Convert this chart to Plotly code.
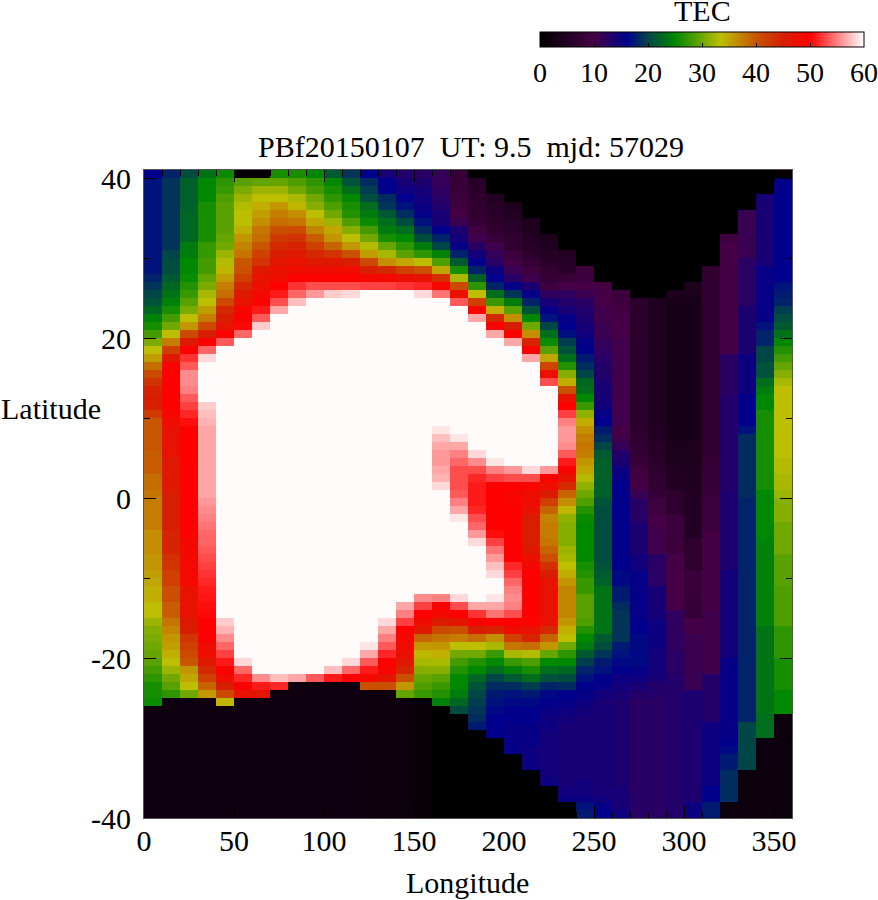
import plotly.graph_objects as go

W = 59.85  # saturated TEC region

lon_000 = [16]+[17]*12+[18,19,20,21,22.5,24.5,26,28,30.5,33.5,35.5,38.5,41,43,44.5,45,45,42.5,40,40,40,40,39.5,39.5,39.5,38.5,38.5,38,37.5,37.5,37.5,37.5,36.5,36.5,36.5,36,36,35.5,35,34.5,34.5,33.5,33.5,32,31,30.5,30,29.5,29,28,27,26,26,25.5]+[2]*14
lon_010 = [18]+[19]*9+[20,20.5,20.5,21.5,22.5,23.5,24.5,26,28,30,33.5,37.5,42,46,49.5]+[50]*5+[49,48]+[47]*4+[46]*4+[45]*5+[44.5]*3+[43.5,43,42,42,40.5,40.5,39.5,39.5,38,37,36,35.5,34.5,33.5,32,30,29,27]+[2]*15
lon_020 = [20.5]+[22]*4+[22.5]*4+[24,24,25,25,25.5,26.5,27.5,29,30.5,33.5,36,41,46,50,52,53.5,55.5,55.5,55,53.5,52.5,51.5,50.5]+[50]*14+[48.5]*6+[47]*4+[46,45.5,43,42,41,40,36,35,33.5,30]+[2]*15
lon_030 = [23.5]+[25]*3+[26]*5+[27.5,27.5,28,28,29.5,30.5,32.5,33.5,35.5,37.5,41,45,50,54,58.5]+[W]*5+[58,57.5,57]+[56.5]*9+[56,55.5,55,54.5,54,54,53.5,53,52.5,52,51.5,51,50.8,50.5,50.3,50,50,50,48,48,46,44,42,39,36]+[2]*15
lon_040 = [25.5,27,27.5,28.5]+[29]*4+[29.5,30,32,33,34,35.5,37.5,38.5,41,44,45,46.5,49.5,53.5]+[W]*34+[58,57,55.5,54,52.5,51,50,48,45,41,34]+[2]*14
lon_050 = [1,29,30.5,32,33,33.5,33.5,34.5,36,37,38,40,40.5,42,44,46,47,49,50,50.2,54]+[W]*40+[58.5,54,51.5,50,47]+[2]*15
lon_060 = [1,29.5,32,33.5,34.5,35.5,36.5,38,38.5,40,42,43,46,47,47.5,48.5,49.5,51,53.5,58]+[W]*43+[55.5,51,46.5]+[2]*15
lon_070 = [26,29.5,32,33.5,36,37.5,38.5,40.5,42.5,44,45,46.5,47.5,48,50,51,53,56.5]+[W]*45+[57.5,51.5]+[2]*16
lon_080 = [26,28.5,30,32.5,34,36.5,38,41,43,44.5,46,47,48,49.5,52,54,57.5]+[W]*46+[56.5]+[2]*17
lon_090 = [25,27,28,30,31,33.5,35,37,39.5,42,44,46,48,49.5,53,56]+[W]*47+[53.5]+[2]*17
lon_100 = [21.5,25,26,27,28.5,30,32,35,36,39,43,46,48,49.5,53,58]+[W]*46+[57.5,51]+[2]*17
lon_110 = [19,21,23,25,26,26.5,28.5,31,33.5,36,40.5,45,48,49.5,53,58.5]+[W]*45+[58.5,54,49.5]+[2]*17
lon_120 = [16,18.5,19.5,20.5,23,24,25.5,28,30,33,35.5,41,45,48.5,52.5]+[W]*44+[59,56.5,53.5,51,48.5,40.5]+[1.5]*16
lon_130 = [14,16,16,18.5,19,21.5,23,24,26,29.5,32.5,36.5,44,48.5,52.5]+[W]*41+[58.5,56.5,55,53.5,51.5,50,49,46.5,40.5]+[1.5]*16
lon_140 = [13,14,15,16,17,18.5,20.5,23,25,27,29,35,42,47.5,52]+[W]*39+[56.5,55,52.5,50,49,48,47.5,46,44.5,40.5,36,29.5]+[1.5]*15
lon_150 = [12.5,13.5,14,14.5,15,15.5,17,18.5,20.5,24,27,33.5,40.5,47,51.5,58.5]+[W]*37+[55.5,52.5,50,48,46,39,36,34,32.5,31,29.5,28.5,27.5]+[1]*15
lon_160 = [11.5,11.5,12,12.5,13,14,14,16,18,20,24.5,28.5,35,43.5,49,54.5]+[W]*16+[59,57.5,56.5,56,56,56.5,57,58.5]+[W]*13+[55,50,48.5,45.5,41,38,36,34.5,32.5,31,29,27.5,26.5,24.5]+[0]*14
lon_170 = [7.5,8,8,8.5,8.5,9.5,11,13.5,14.5,15.5,18,21.5,26,32.5,41,47.5,53.5]+[W]*16+[59,56.5,55,54,53,53,53,53.5,55,56.5,59]+[W]*9+[58.5,53,50,46.5,40.5,37.5,33.5,30,28,26.5,25,25,24,22.5,20.5]+[0]*13
lon_180 = [0,5.5,6,6.5,7,7,7.5,9,10.5,12.5,14.5,16,18,22,27,33.5,42,49.5,56.5]+[W]*16+[58.5,55.5,53,51.5,51,51,51,51.5,53,54,56,58.5]+[W]*7+[56.5,52,49,45,38.5,33.5,30,26.5,25,22.5,21,20,19.5,19,18.5,17.5]+[0]*11
lon_190 = [0,0,0,5,5.5,6,6.5,7,8,10.5,11.5,12.5,15,16,18,23,27.5,34.5,44,50,56.5]+[W]*15+[59,55,52.5,50]+[50]*5+[50.5,52.5,54.5,56,57.5,58.5]+[W]*2+[59,56.5,54.5,50,44.5,36.5,32.5,27.5,25,23,20,18.5,17.5,17,16.5,16,16,16]+[0]*10
lon_200 = [0]*4+[4,5,5.5,6,7,7,8.5,9.5,11,12.5,15.5,19,24,29,36.5,45,50,56.5]+[W]*15+[56,53,50,49,49.5,50,50,50,50,50,50,50,51.5,52.5,54,55,55.5,55,53,50,48,42,38,32.5,27.5,24.5,21.5,18.5,17,16.5,16,16,15.5,15.5,15.5,15.5]+[0]*8
lon_210 = [0]*6+[4,4.5,5,5.5,6.5,7.5,9,10.5,13.5,15.5,18,21,25,30,36.5,44.5,50,56.5]+[W]*13+[58.5,53,49,48,48,47,45.5,45,45,45,46,47.5,48.5]+[50]*6+[49.5,47,44.5,38.5,33,28.5,26,23,19.5,17.5,16.5,16,16,15.5,15.5,15.5,15,15,15]+[0]*6
lon_220 = [0]*8+[4,4.5,5,6,7,7.5,8.5,12,14,15.5,17,20,23,25.5,29,35,41.5,48,53]+[W]*10+[56,49.5,48,45.5,42,39,37,37.5,37.5,38,39,40.5,43.5,45]+[47]*6+[44,39,36,29.5,25,23,21,18,16.5,16,15.5,15,15]+[14.5]*6+[15]+[0]*4
lon_230 = [0]*10+[5,5.5,6,8,10,12,13,14,15.5,16,16.8,19.5,21,23,26.5,31,34.5,40.5,47,50,52.5,55,56,56,55.5,53.5,51,49,47,44,39,36.5,34,31.5,31,31,31,32,32.5,33.5,34.5,36,37,37,37,37,36,34.5,33.5,30,27,25,22.5,20.5,18.5,16,15.5,15,14.5,14,14,14,14,14,14,14,14,14.5,15]+[0]*2
lon_240 = [0]*12+[8.5,9,10,11,12.5,13,13.5,14,14.5,15.5,16,17.5,18.5,20,22.5,23,25,27.5,31.5,34.5,36.5,37.5,38,37.5,36,35,33,31.5,30,28.5,26.5,25.5,25,25,25,25,25,26,26.5,27.5,27.5,29,29,29,28.5,26.5,25,24,21.5,19.5,18,17,16,15.5,15,14.5]+[14]*8+[14.5,14.5,15,17,17.5]
lon_250 = [0]*14+[9.5,10,10,10.5,10.5,11,11,11.5,12,12.5,13,13,13.5,14,14,14.5,15.5,16,17.5,18.5,20,21.5]+[22]*5+[21]+[20.5]*7+[21,21.5,22]+[23.5]*6+[21.5,20.5,19,17.5,17,16,15.5,14.5]+[14]*12+[14.5,15.5,16]
lon_260 = [0]*15+[8.5,9,9.5]+[10]*3+[10.5]*11+[10,10.5,11.5,13,13.5,15,15.5,16,16]+[16]*9+[16.5,16.5,17.5,17.5,18.5,19]+[19]*3+[17.5,17,16.5,16,15,14.5,14]+[13.5]*11+[14,14,14,15]
lon_270 = [0]*16+[6]*16+[6.5,7,7,7.5,8,9,9.5,10,11]+[12.5]*3+[13.5]*4+[14.5]*2+[15.5]*6+[16]*2+[16.5]*4+[15.5,15,14,13]+[12.5]*15
lon_280 = [0]*16+[4]+[4.5]*15+[5,5,5.5,5.5,6,6.5,7,7,7.5]+[9]*2+[10]*2+[10.5]*3+[12.5]*4+[14]*4+[15]*4+[14.5]*3+[14,13,13]+[12.5]*15
lon_290 = [0]*15+[4]+[3.5]*18+[4]*3+[5]*3+[6.5]*3+[8.5]*5+[10]*7+[12]*5+[12.5]*3+[13]*18
lon_300 = [0]*14+[4]*2+[3.5]*18+[4]*3+[4.5]*3+[5]*6+[6.5]*4+[8]*3+[7.5]*3+[10]*2+[11]*7+[13.5]*14+[15]*2
lon_310 = [0]*12+[7]*24+[7.5]*4+[8]+[8.5]*4+[9.5]*5+[10]*5+[10.5]*8+[13]*6+[15]*8+[16]*2+[17.5]*2
lon_320 = [0]*8+[9]+[10]*14+[12.5]*5+[13]*12+[13.5]*10+[14.5]*11+[15.5]*10+[16,16.5,17.5,17.5]+[18.5]*4+[1.5]*2
lon_330 = [0]*5+[11]*6+[12.5]*6+[13.5]*6+[15]*5+[16]*4+[17]+[18.5]*8+[18]*28+[20]*6+[1.5]*6
lon_340 = [0]*3+[14]*9+[15.5]*7+[17]+[18]*2+[20]*2+[21]*2+[23,24]+[25]*2+[26]*10+[25]*6+[24.5]*11+[23.5]*11+[23]*3+[1.5]*10
lon_350 = [1]+[16]*13+[17,17.5,18,19.5,20.5,21.5,23.5,25,26.5,28,29.5,31,32.5]+[33.5]*9+[33]*2+[32.5]*2+[32]+[31]*3+[30]*4+[29]*4+[28.5]*5+[27]*4+[26]*4+[25]*3+[1.5]*13

columns = [lon_000, lon_010, lon_020, lon_030, lon_040, lon_050, lon_060, lon_070, lon_080,
           lon_090, lon_100, lon_110, lon_120, lon_130, lon_140, lon_150, lon_160, lon_170,
           lon_180, lon_190, lon_200, lon_210, lon_220, lon_230, lon_240, lon_250, lon_260,
           lon_270, lon_280, lon_290, lon_300, lon_310, lon_320, lon_330, lon_340, lon_350]
for i, c in enumerate(columns):
    assert len(c) == 81, (i, len(c))

x_edges = list(range(0, 361, 10))
y_edges = list(range(-40, 42))
z = [[c[80 - r] for c in columns] for r in range(81)]

tec_stops = [0, 10, 16, 20, 25, 33.5, 40, 45, 50, 60]
tec_colors = ["#000000", "#460046", "#00008c", "#004646", "#008800",
              "#bebe00", "#c85500", "#d71e00", "#ff0000", "#ffffff"]
colorscale = [[s / 60, c] for s, c in zip(tec_stops, tec_colors)]

x_ticks = [0, 50, 100, 150, 200, 250, 300, 350]
y_ticks = [-40, -20, 0, 20, 40]
FONT = "Liberation Serif"
FS = 30
TXT = dict(family=FONT, size=FS, color="black")

fig = go.Figure(go.Heatmap(
    x=x_edges, y=y_edges, z=z, zmin=0, zmax=60, colorscale=colorscale,
    colorbar=dict(
        orientation="h", lenmode="pixels", len=324, thicknessmode="pixels", thickness=15,
        x=(540 - 144) / 648, xanchor="left", y=(818 - 32) / 648, yanchor="top",
        xpad=0, ypad=0, outlinecolor="black", outlinewidth=1, borderwidth=0,
        tick0=0, dtick=10, ticks="inside", ticklen=4, tickcolor="black",
        ticklabelposition="outside", ticklabeloverflow="allow",
        tickfont=dict(family=FONT, size=28, color="black"),
    ),
))

axis_common = dict(
    showgrid=False, zeroline=False, showline=True, linecolor="#555555", linewidth=1,
    mirror="allticks", ticks="inside", ticklen=12, tickcolor="black", tickwidth=1,
    tickfont=TXT,
)
fig.update_xaxes(range=[0, 360], tickmode="array", tickvals=x_ticks, ticktext=[str(v) for v in x_ticks],
                 ticklabelstandoff=-4,
                 minor=dict(dtick=10, ticks="inside", ticklen=6, tickcolor="black"), **axis_common)
fig.update_yaxes(range=[-40, 41], tickmode="array", tickvals=y_ticks, ticktext=[str(v) for v in y_ticks],
                 ticklabelstandoff=6,
                 minor=dict(dtick=10, ticks="inside", ticklen=6, tickcolor="black"), **axis_common)


def label(text, px, py, anchor="center"):
    return dict(text=text, x=(px - 144) / 648, xref="paper", xanchor=anchor,
                y=(818 - py) / 648, yref="paper", yanchor="middle",
                showarrow=False, font=TXT, borderpad=0, xshift=0)


fig.update_layout(
    width=878, height=900, autosize=False,
    paper_bgcolor="white", plot_bgcolor="white",
    margin=dict(l=144, r=86, t=170, b=82, autoexpand=False),
    annotations=[
        label("PBf20150107\u00a0\u00a0UT: 9.5\u00a0\u00a0mjd: 57029", 471, 146),
        label("Latitude", 0, 408, "left"),
        label("Longitude", 467, 883),
        label("TEC", 702, 10),
    ],
)
fig.write_html("out.html", config={"displayModeBar": False},
               post_script="document.body.style.margin='0';")
